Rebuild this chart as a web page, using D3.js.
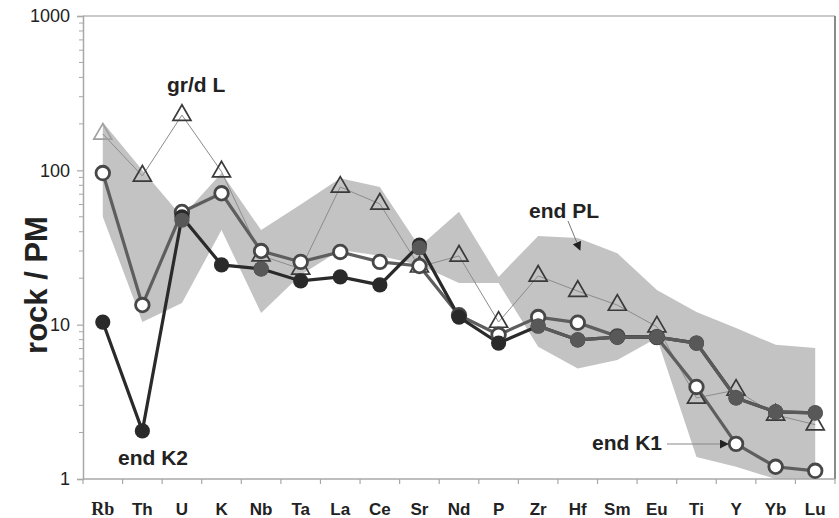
<!DOCTYPE html>
<html>
<head>
<meta charset="utf-8">
<script src="https://cdn.jsdelivr.net/npm/d3@7"></script>
<style>
  body { margin: 0; background: #fff; }
  svg { display: block; }
</style>
</head>
<body>
<svg id="chart" width="839" height="518"></svg>
<script>
// Primitive-mantle normalised spider diagram
const elements = ["Rb","Th","U","K","Nb","Ta","La","Ce","Sr","Nd","P","Zr","Hf","Sm","Eu","Ti","Y","Yb","Lu"];
const yTicks = [1, 10, 100, 1000];

// end PL field (upper and lower envelope)
const endPLUpper = [205, 100, 50, 96, 41, 60, 89, 78, 32, 54, 20.4, 37.6, 36.5, 29, 16.8, 12.1, 9.5, 7.4, 7.06];
const endPLLower = [50, 10.4, 13.8, 41, 11.9, 21, 30.5, 28, 24.4, 18.6, 18.6, 7.2, 5.2, 5.9, 8.2, 1.39, 1.2, 1.0, 1.0];

// gr/d L (triangles)
const grdL  = [172, 92, 228, 98, 28, 23, 78, 60.6, 23.7, 27.9, 10.4, 20.7, 16.5, 13.4, 9.7, 3.35, 3.77, 2.6, 2.25];
// end K1 (open circles)
const endK1 = [96, 13.4, 53.7, 71, 30, 25.5, 29.6, 25.5, 24, 11.5, 8.6, 11.2, 10.3, 8.4, 8.3, 3.95, 1.69, 1.2, 1.13];
// end K2 (black filled circles)
const endK2 = [10.4, 2.05, 49.9, 24.4, 23, 19.2, 20.4, 18.1, 32.8, 11.2, 7.6, 9.8, 7.96, 8.3, 8.3, 7.6, 3.35, 2.72, 2.68];
// grey filled circles
const greyFilled = [null, null, 47.5, null, 23, null, null, null, 31.5, null, null, 9.8, 7.96, 8.3, 8.3, 7.6, 3.35, 2.72, 2.68];

const svg = d3.select("#chart");
const plotLeft = 83, plotRight = 835, plotTop = 16, plotBottom = 479;
const sans = "Arial, 'Liberation Sans', sans-serif";

const x = d3.scaleBand().domain(elements).range([plotLeft, plotRight]);
const cx = e => x(e) + x.bandwidth() / 2;
const y = d3.scaleLog().domain([1, 1000]).range([plotBottom, plotTop]);

const rows = (vals) => elements.map((e, i) => ({ e, v: vals[i] }));

// arrow heads
const defs = svg.append("defs");
defs.append("marker").attr("id", "arrow")
  .attr("viewBox", "0 0 10 10").attr("refX", 9).attr("refY", 5)
  .attr("markerWidth", 9).attr("markerHeight", 9).attr("markerUnits", "userSpaceOnUse")
  .attr("orient", "auto")
  .append("path").attr("d", "M0,0 L10,5 L0,10 Z").attr("fill", "#222");

// end PL field
const field = elements.map((e, i) => ({ e, lo: endPLLower[i], hi: endPLUpper[i] }));
svg.append("path").datum(field)
  .attr("d", d3.area().x(d => cx(d.e)).y0(d => y(d.lo)).y1(d => y(d.hi)))
  .attr("fill", "#c3c3c3");

// frame: top and right edges
svg.append("line").attr("x1", plotLeft).attr("x2", plotRight).attr("y1", plotTop).attr("y2", plotTop)
  .attr("stroke", "#b8b8b8").attr("stroke-width", 1.5);
svg.append("line").attr("x1", plotRight).attr("x2", plotRight).attr("y1", plotTop).attr("y2", plotBottom)
  .attr("stroke", "#8a8a8a").attr("stroke-width", 2);

// y axis
const yAxis = svg.append("g").attr("transform", `translate(${plotLeft},0)`)
  .call(d3.axisLeft(y).tickValues(yTicks).tickFormat(d3.format("d")).tickSize(6).tickPadding(7));
yAxis.select(".domain").attr("stroke", "#a8a8a8").attr("stroke-width", 1.5);
yAxis.selectAll(".tick line").attr("stroke", "#a8a8a8").attr("stroke-width", 1.2);
yAxis.selectAll(".tick text").attr("font-family", sans)
  .attr("font-size", 18).attr("fill", "#222");
// minor ticks
const minor = [];
for (let d = 1; d < 1000; d *= 10) for (let k = 2; k <= 9; k++) minor.push(d * k);
yAxis.selectAll(".minor").data(minor).join("line").attr("class", "minor")
  .attr("x1", -4).attr("x2", 0).attr("y1", d => y(d)).attr("y2", d => y(d))
  .attr("stroke", "#a8a8a8").attr("stroke-width", 1);

// x axis
const xAxis = svg.append("g").attr("transform", `translate(0,${plotBottom})`);
xAxis.append("line").attr("x1", plotLeft).attr("x2", plotRight).attr("stroke", "#a8a8a8").attr("stroke-width", 1.5);
const bounds = elements.map(e => x(e)).concat([plotRight]);
xAxis.selectAll(".xt").data(bounds).join("line").attr("class", "xt")
  .attr("x1", d => d).attr("x2", d => d).attr("y1", 0).attr("y2", 5)
  .attr("stroke", "#a8a8a8").attr("stroke-width", 1.2);
xAxis.selectAll(".xl").data(elements).join("text").attr("class", "xl")
  .attr("x", d => cx(d)).attr("y", 36).attr("text-anchor", "middle")
  .attr("font-family", d => d === "Rb" ? "'Liberation Serif', 'Times New Roman', serif" : sans)
  .attr("font-weight", "bold").attr("font-size", d => d === "Rb" ? 18 : 17).attr("fill", "#222")
  .text(d => d);

// y title
svg.append("text").attr("transform", "translate(47,285) rotate(-90)")
  .attr("text-anchor", "middle").attr("font-family", sans)
  .attr("font-weight", "bold").attr("font-size", 31).attr("fill", "#222")
  .text("rock / PM");

const lineGen = d3.line().defined(d => d.v != null).x(d => cx(d.e)).y(d => y(d.v));

// gr/d L
svg.append("path").datum(rows(grdL)).attr("d", lineGen)
  .attr("fill", "none").attr("stroke", "#8c8c8c").attr("stroke-width", 1);

// end K1 line
svg.append("path").datum(rows(endK1)).attr("d", lineGen)
  .attr("fill", "none").attr("stroke", "#5e5e5e").attr("stroke-width", 3.2);

// end K2 line
svg.append("path").datum(rows(endK2)).attr("d", lineGen)
  .attr("fill", "none").attr("stroke", "#2a2a2a").attr("stroke-width", 3.2);

// triangles
const tri = d3.symbol(d3.symbolTriangle, 140);
svg.selectAll(".tri").data(rows(grdL)).join("path").attr("class", "tri")
  .attr("transform", d => `translate(${cx(d.e)},${y(d.v)})`)
  .attr("d", tri).attr("fill", "none")
  .attr("stroke", (d, i) => i === 0 ? "#a0a0a0" : "#3a3a3a").attr("stroke-width", 1.7);

// open circles
svg.selectAll(".oc").data(rows(endK1)).join("circle").attr("class", "oc")
  .attr("cx", d => cx(d.e)).attr("cy", d => y(d.v)).attr("r", 6.8)
  .attr("fill", "#fff").attr("stroke", "#474747").attr("stroke-width", 2.8);

// black filled circles
svg.selectAll(".fc").data(rows(endK2)).join("circle").attr("class", "fc")
  .attr("cx", d => cx(d.e)).attr("cy", d => y(d.v)).attr("r", 7.6)
  .attr("fill", "#2a2a2a");

// grey filled circles and their line
svg.append("path").datum(rows(greyFilled)).attr("d", lineGen)
  .attr("fill", "none").attr("stroke", "#5a5a5a").attr("stroke-width", 3.2);
svg.selectAll(".gc").data(rows(greyFilled).filter(d => d.v != null)).join("circle").attr("class", "gc")
  .attr("cx", d => cx(d.e)).attr("cy", d => y(d.v)).attr("r", 7.6)
  .attr("fill", "#585858");

// labels
const lab = (t, xx, yy) => svg.append("text").attr("x", xx).attr("y", yy)
  .attr("font-family", sans).attr("font-weight", "bold")
  .attr("font-size", 21).attr("fill", "#222").text(t);
lab("gr/d L", 167, 92);
lab("end K2", 118, 465);
lab("end PL", 529, 218);
lab("end K1", 592, 450);

svg.append("line").attr("x1", 568).attr("y1", 221).attr("x2", 580).attr("y2", 250)
  .attr("stroke", "#777").attr("stroke-width", 1).attr("marker-end", "url(#arrow)");
svg.append("line").attr("x1", 667).attr("y1", 444).attr("x2", 728).attr("y2", 444)
  .attr("stroke", "#888").attr("stroke-width", 1).attr("marker-end", "url(#arrow)");
</script>
</body>
</html>
